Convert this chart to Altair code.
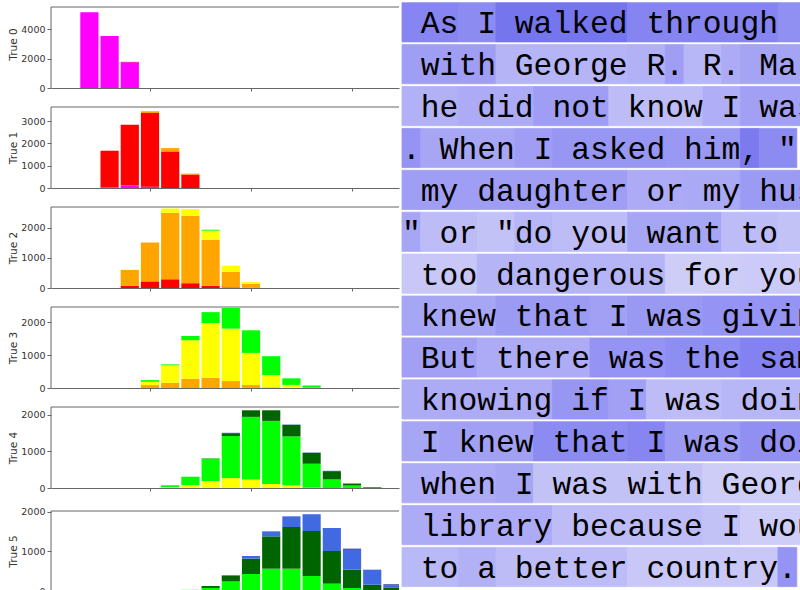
import altair as alt
import pandas as pd

# ---------------- histogram data ----------------
bin_starts = [0.3, 0.5, 0.7, 0.9, 1.1, 1.3, 1.5, 1.7, 1.9, 2.1, 2.3, 2.5, 2.7, 2.9, 3.1, 3.3]
bin_width = 0.2

class_names = ["magenta", "red", "orange", "yellow", "lime", "darkgreen", "royalblue", "navy"]
class_colors = ["#ff00ff", "#ff0000", "#ffa500", "#ffff00", "#00ff00", "#006400", "#4169e1", "#1c1c96"]

true0 = {
    "magenta": [5160, 3540, 1760, 0, 0, 0, 0, 0, 0, 0, 0, 0, 0, 0, 0, 0],
    "red":     [0, 0, 20, 0, 0, 0, 0, 0, 0, 0, 0, 0, 0, 0, 0, 0],
}
true1 = {
    "magenta": [0, 20, 110, 60, 0, 0, 0, 0, 0, 0, 0, 0, 0, 0, 0, 0],
    "red":     [0, 1650, 2720, 3300, 1640, 600, 0, 0, 0, 0, 0, 0, 0, 0, 0, 0],
    "orange":  [0, 0, 0, 80, 150, 45, 0, 0, 0, 0, 0, 0, 0, 0, 0, 0],
}
true2 = {
    "red":     [0, 0, 70, 220, 290, 160, 75, 20, 5, 0, 0, 0, 0, 0, 0, 0],
    "orange":  [0, 0, 530, 1290, 2210, 2240, 1530, 520, 130, 0, 0, 0, 0, 0, 0, 0],
    "yellow":  [0, 0, 0, 0, 140, 220, 300, 200, 60, 0, 0, 0, 0, 0, 0, 0],
    "lime":    [0, 0, 0, 0, 0, 0, 30, 0, 0, 0, 0, 0, 0, 0, 0, 0],
}
true3 = {
    "orange":  [0, 0, 0, 90, 160, 280, 310, 210, 90, 20, 5, 0, 0, 0, 0, 0],
    "yellow":  [0, 0, 0, 100, 530, 1175, 1670, 1600, 980, 375, 90, 10, 0, 0, 0, 0],
    "lime":    [0, 0, 0, 50, 30, 130, 333, 630, 690, 575, 200, 70, 0, 0, 0, 0],
}
true4 = {
    "orange":    [0, 0, 0, 0, 10, 0, 0, 0, 0, 0, 0, 0, 0, 0, 0, 0],
    "yellow":    [0, 0, 0, 0, 15, 80, 190, 270, 235, 110, 70, 10, 0, 0, 0, 0],
    "lime":      [0, 0, 0, 0, 50, 228, 610, 1150, 1710, 1725, 1340, 655, 234, 68, 12, 0],
    "darkgreen": [0, 0, 0, 0, 0, 0, 10, 80, 180, 290, 318, 300, 227, 50, 15, 0],
    "royalblue": [0, 0, 0, 0, 0, 0, 0, 10, 0, 0, 8, 8, 10, 10, 0, 0],
}
true5 = {
    "orange":    [0, 0, 0, 0, 0, 0, 0, 0, 0, 10, 0, 0, 0, 0, 0, 0],
    "lime":      [0, 0, 0, 0, 0, 30, 77, 243, 430, 555, 565, 380, 186, 76, 0, 0],
    "darkgreen": [0, 0, 0, 0, 0, 0, 50, 152, 388, 818, 1055, 1139, 827, 464, 160, 80],
    "royalblue": [0, 0, 0, 0, 0, 0, 0, 0, 68, 127, 270, 422, 582, 506, 380, 68],
    "navy":      [0, 0, 0, 0, 0, 0, 0, 0, 0, 0, 0, 0, 0, 25, 0, 20],
}
panels = [true0, true1, true2, true3, true4, true5]
panel_titles = ["True 0", "True 1", "True 2", "True 3", "True 4", "True 5"]
y_max = [5520, 3630, 2690, 2470, 2215, 2025]
y_ticks = [[0, 2000, 4000], [0, 1000, 2000, 3000], [0, 1000, 2000],
           [0, 1000, 2000], [0, 1000, 2000], [0, 1000, 2000]]
x_ticks = [1, 2, 3]

# ---------------- token heat-map data ----------------
row_tokens = [
    [" As", " I", " walked", " through", "  "],
    [" with", " George", " R", ".", " R", ".", " Martin"],
    [" he", " did", " not", " know", " I", " was"],
    [".", " When", " I", " asked", " him", ",", ' "'],
    [" my", " daughter", " or", " my", " husband"],
    ['"', " or", ' "', "do", " you", " want", " to", "  "],
    [" too", " dangerous", " for", " you"],
    [" knew", " that", " I", " was", " giving"],
    [" But", " there", " was", " the", " same"],
    [" knowing", " if", " I", " was", " doing"],
    [" I", " knew", " that", " I", " was", " doing"],
    [" when", " I", " was", " with", " George"],
    [" library", " because", " I", " would"],
    [" to", " a", " better", " country", "."],
]
row_weights = [
    [0.85, 0.80, 1.00, 0.86, 0.76],
    [0.62, 0.42, 0.45, 0.62, 0.40, 0.50, 0.58],
    [0.45, 0.50, 0.62, 0.35, 0.48, 0.60],
    [0.72, 0.55, 0.62, 0.70, 0.68, 0.95, 0.80],
    [0.62, 0.62, 0.50, 0.52, 0.65],
    [0.55, 0.35, 0.30, 0.40, 0.35, 0.55, 0.35, 0.30],
    [0.25, 0.42, 0.20, 0.22],
    [0.55, 0.65, 0.60, 0.68, 0.72],
    [0.60, 0.50, 0.72, 0.78, 0.88],
    [0.50, 0.70, 0.60, 0.35, 0.40],
    [0.55, 0.60, 0.80, 0.85, 0.65, 0.75],
    [0.50, 0.55, 0.30, 0.30, 0.20],
    [0.50, 0.35, 0.30, 0.20],
    [0.38, 0.45, 0.35, 0.25, 0.72],
]

# ---------------- build tables ----------------
hist_rows = []
for p, panel in enumerate(panels):
    for cls, counts in panel.items():
        for start, cnt in zip(bin_starts, counts):
            if cnt > 0:
                hist_rows.append(dict(panel=p, cls=cls, order=class_names.index(cls),
                                      start=start, count=cnt))
hist = pd.DataFrame(hist_rows)

tok_rows = []
for r, (toks, ws) in enumerate(zip(row_tokens, row_weights)):
    pos = 0
    for t, w in zip(toks, ws):
        lead = len(t) - len(t.lstrip(" "))
        tok_rows.append(dict(row=r, c0=pos, c1=pos + len(t), tx=pos + lead,
                             label=t.strip(), w=w))
        pos += len(t)
tokens = pd.DataFrame(tok_rows)

# ---------------- left: stacked histograms ----------------
PLOT_W = 348
GREY = "#666666"
x_scale = alt.Scale(domain=[0.02, 3.465], nice=False, zero=False)
one = pd.DataFrame({"v": [1.0]})
heights = [88, 81, 81, 81, 81, 80]
top_offsets = [7, 0, 0, 0, 0, 0]

charts = []
for p in range(6):
    h = heights[p]
    off = top_offsets[p]
    ytop = y_max[p] * h / (h - off)
    d = hist[hist.panel == p]
    bars = (
        alt.Chart(d)
        .transform_stack(stack="count", groupby=["start"], as_=["y0", "y1"],
                         sort=[alt.SortField("order", order="ascending")])
        .transform_calculate(l="datum.start + 0.01", r=f"datum.start + {bin_width} - 0.01")
        .mark_bar(clip=True)
        .encode(
            x=alt.X("l:Q", scale=x_scale,
                    axis=alt.Axis(values=x_ticks, labels=False, title=None, tickSize=3,
                                  grid=False, domainColor=GREY, tickColor=GREY)),
            x2="r:Q",
            y=alt.Y("y0:Q", scale=alt.Scale(domain=[0, ytop], nice=False),
                    axis=alt.Axis(values=y_ticks[p], format="d", title=panel_titles[p],
                                  grid=False, domain=False, tickSize=4, labelPadding=2,
                                  labelFontSize=9.5, titleFontSize=10.5,
                                  titlePadding=3, titleFontWeight="normal",
                                  minExtent=30, maxExtent=30, tickColor=GREY,
                                  labelColor="#333333", titleColor="#333333")),
            y2="y1:Q",
            color=alt.Color("cls:N", scale=alt.Scale(domain=class_names, range=class_colors),
                            legend=None),
        )
    )
    top_spine = alt.Chart(one).mark_rule(color=GREY, strokeWidth=1).encode(
        x=alt.value(0), x2=alt.value(PLOT_W), y=alt.value(off))
    left_spine = alt.Chart(one).mark_rule(color=GREY, strokeWidth=1).encode(
        x=alt.value(0), y=alt.value(off), y2=alt.value(h))
    charts.append(alt.layer(bars, top_spine, left_spine).properties(width=PLOT_W, height=h))

left = alt.vconcat(*charts, spacing=13)

# ---------------- right: token attribution text ----------------
CHAR_PX = 18.8
TEXT_W = 400
ROW_PX = 41.9
tx_scale = alt.Scale(domain=[-2 / CHAR_PX, (TEXT_W - 2) / CHAR_PX], nice=False, zero=False)
ty_scale = alt.Scale(domain=[0, 590 / ROW_PX], nice=False, zero=False, reverse=True)
shade = alt.Scale(domain=[0, 1], range=["#e3e3f9", "#7575ee"])

base = alt.Chart(tokens).transform_calculate(
    top="datum.row + 0.0645", bot="datum.row + 1", ty="datum.row + 0.79"
)
boxes = base.mark_rect(clip=True, strokeWidth=0.8).encode(
    x=alt.X("c0:Q", scale=tx_scale, axis=None),
    x2="c1:Q",
    y=alt.Y("top:Q", scale=ty_scale, axis=None),
    y2="bot:Q",
    color=alt.Color("w:Q", scale=shade, legend=None),
    stroke=alt.Stroke("w:Q", scale=shade, legend=None),
)
words = base.mark_text(align="left", baseline="alphabetic", font="Liberation Mono",
                       fontSize=31.33, color="#000000", clip=True).encode(
    x=alt.X("tx:Q", scale=tx_scale, axis=None),
    y=alt.Y("ty:Q", scale=ty_scale, axis=None),
    text="label:N",
)
right = alt.layer(boxes, words).properties(width=TEXT_W, height=590)

chart = (
    alt.hconcat(left, right, spacing=0)
    .properties(padding={"left": 8, "top": 0, "right": 0, "bottom": 0})
    .configure_view(stroke=None)
    .configure_axis(labelFont="DejaVu Sans", titleFont="DejaVu Sans")
)

chart.save("out.html", embed_options={"renderer": "svg", "actions": False})
